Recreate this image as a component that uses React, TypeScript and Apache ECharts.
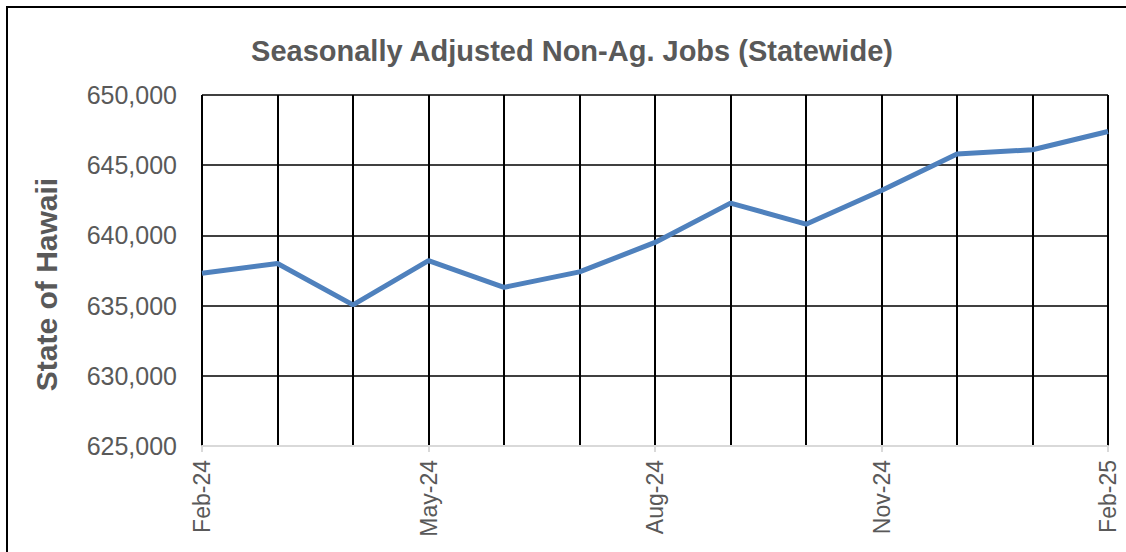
import React, { useEffect, useRef } from "react";
import * as echarts from "echarts";

const months = [
  "Feb-24", "Mar-24", "Apr-24", "May-24", "Jun-24", "Jul-24", "Aug-24",
  "Sep-24", "Oct-24", "Nov-24", "Dec-24", "Jan-25", "Feb-25",
];
const jobs = [
  637300, 638000, 635050, 638200, 636300, 637400, 639500,
  642300, 640800, 643200, 645800, 646100, 647400,
];
const yMin = 625000;
const yMax = 650000;
const yStep = 5000;

export default function App() {
  const ref = useRef<HTMLDivElement>(null);
  useEffect(() => {
    document.body.style.margin = "0";
    if (!ref.current) return;
    const chart = echarts.init(ref.current, null, { renderer: "svg" });
    const font = "Liberation Sans, Arial, sans-serif";
    chart.setOption({
      animation: false,
      backgroundColor: "#fff",
      title: {
        text: "Seasonally Adjusted Non-Ag. Jobs (Statewide)",
        left: 567,
        textAlign: "center",
        top: 31,
        textStyle: { fontFamily: font, fontSize: 29, fontWeight: "bold", color: "#595959" },
      },
      graphic: [
        {
          type: "rect",
          shape: { x: 7, y: 7, width: 1300, height: 700 },
          style: { fill: "none", stroke: "#000", lineWidth: 2 },
          silent: true,
        },
      ],
      grid: { left: 202, right: 18, top: 95, bottom: 106, containLabel: false },
      xAxis: {
        type: "category",
        data: months,
        boundaryGap: false,
        axisLine: { show: true, lineStyle: { color: "#d9d9d9", width: 2 } },
        axisTick: { show: true, interval: 2, length: 6, lineStyle: { color: "#d9d9d9", width: 2 } },
        axisLabel: {
          interval: 2,
          rotate: 90,
          margin: 14,
          fontFamily: font,
          fontSize: 23,
          color: "#595959",
        },
        splitLine: { show: true, interval: 0, lineStyle: { color: "#000", width: 2 } },
      },
      yAxis: {
        type: "value",
        min: yMin,
        max: yMax,
        interval: yStep,
        name: "State of Hawaii",
        nameLocation: "middle",
        nameRotate: 90,
        nameGap: 141,
        nameTextStyle: {
          fontFamily: font,
          fontSize: 30,
          fontWeight: "bold",
          color: "#595959",
          padding: [0, 28, 0, 0],
        },
        axisLine: { show: false },
        axisTick: { show: false },
        axisLabel: {
          margin: 25,
          fontFamily: font,
          fontSize: 25,
          color: "#595959",
          formatter: (v: number) => v.toLocaleString("en-US"),
        },
        splitLine: { show: true, lineStyle: { color: "#000", width: 1.5 } },
      },
      series: [
        {
          type: "line",
          data: jobs,
          symbol: "none",
          lineStyle: { color: "#4F81BD", width: 5 },
          z: 5,
        },
      ],
    });
    return () => chart.dispose();
  }, []);
  return <div ref={ref} style={{ width: 1126, height: 552 }} />;
}
